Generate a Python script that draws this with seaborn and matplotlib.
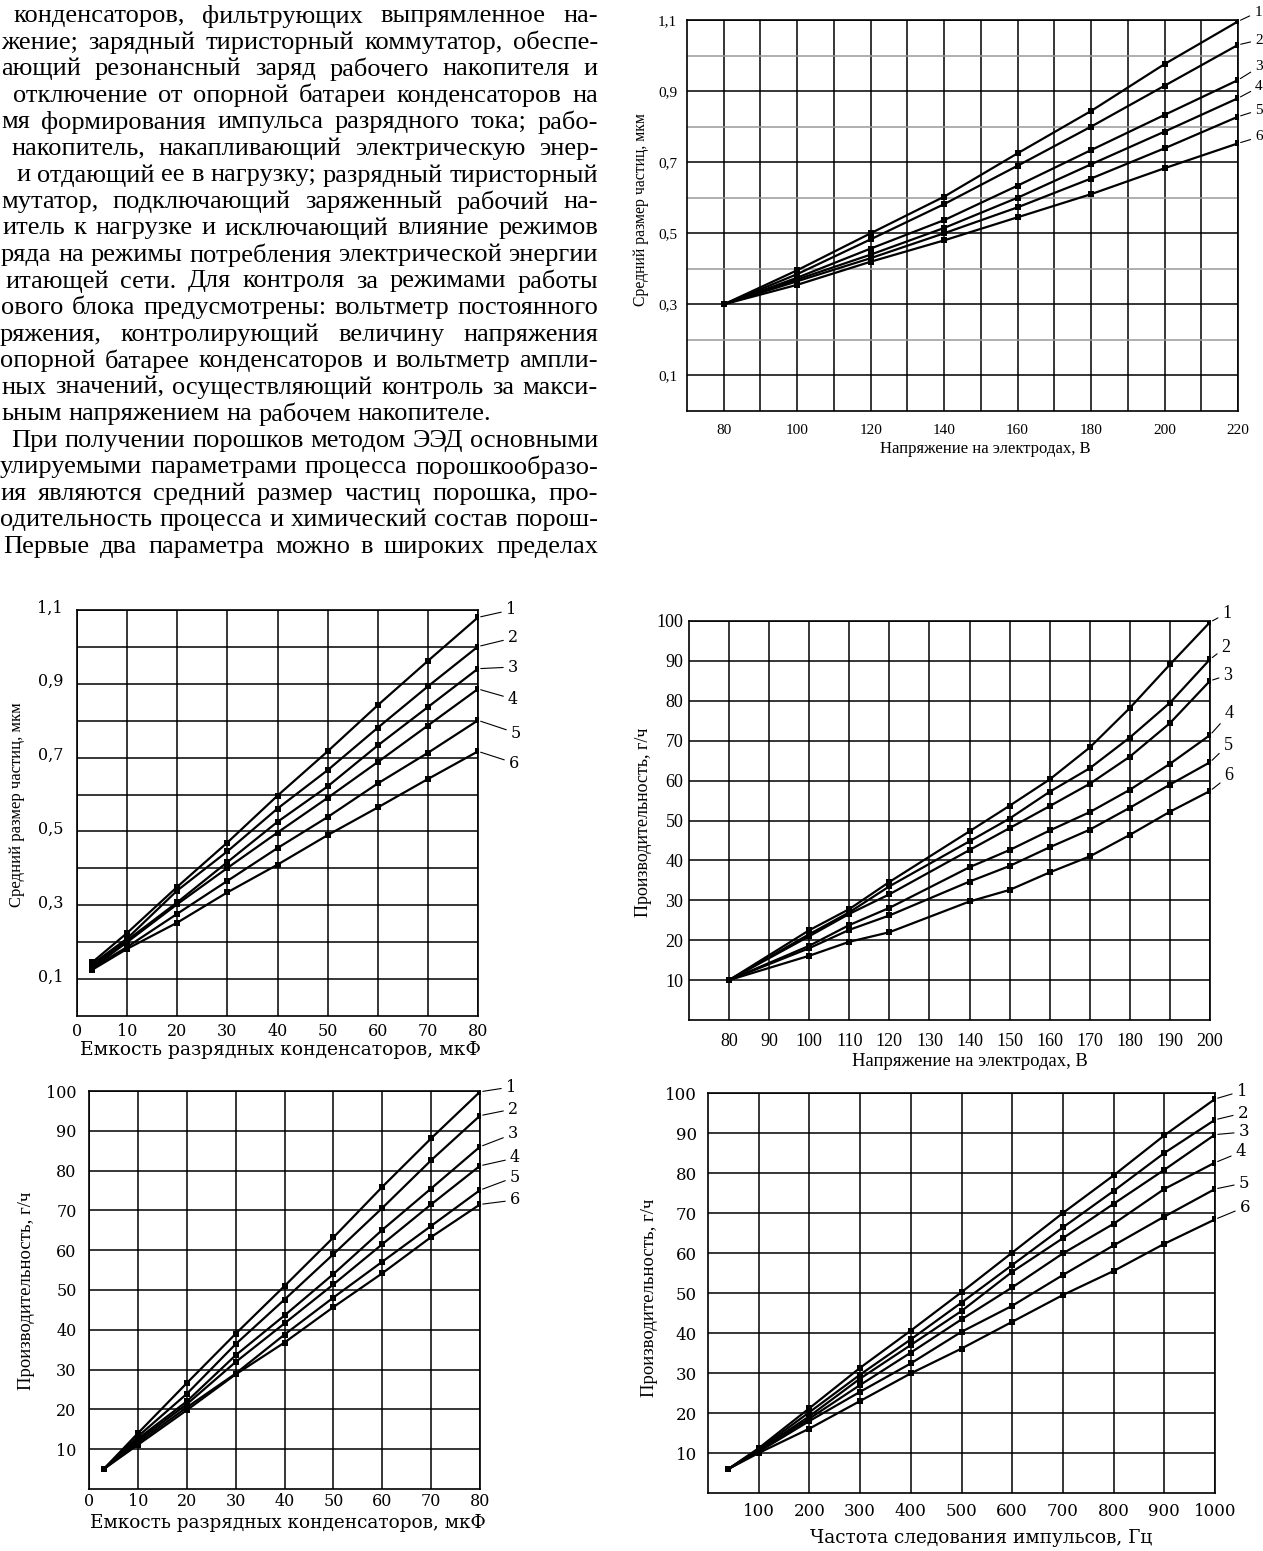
import matplotlib
matplotlib.use('Agg')
import matplotlib.pyplot as plt
import matplotlib.transforms as mtrans
import seaborn as sns
import numpy as np
import pandas as pd
from matplotlib.ticker import FuncFormatter

W, H = 1263, 1551

# ---- page text (top-left, cut on the left side) ----
text_lines = [
    "конденсаторов, фильтрующих выпрямленное на-",
    "жение; зарядный тиристорный коммутатор, обеспе-",
    "ающий резонансный заряд рабочего накопителя и",
    "отключение от опорной батареи конденсаторов на",
    "мя формирования импульса разрядного тока; рабо-",
    "накопитель, накапливающий электрическую энер-",
    "и отдающий ее в нагрузку; разрядный тиристорный",
    "мутатор, подключающий заряженный рабочий на-",
    "итель к нагрузке и исключающий влияние режимов",
    "ряда на режимы потребления электрической энергии",
    "итающей сети. Для контроля за режимами работы",
    "ового блока предусмотрены: вольтметр постоянного",
    "ряжения, контролирующий величину напряжения",
    "опорной батарее конденсаторов и вольтметр ампли-",
    "ных значений, осуществляющий контроль за макси-",
    "ьным напряжением на рабочем накопителе.",
    "При получении порошков методом ЭЭД основными",
    "улируемыми параметрами процесса порошкообразо-",
    "ия являются средний размер частиц порошка, про-",
    "одительность процесса и химический состав порош-",
    "Первые два параметра можно в широких пределах",
]
text_left = [13, 1, 1, 13, 1, 11, 16, 1, 2, 1, 5, 1, 0, 0, 1, 1, 11, 0, 0, 0, 3]
text_justified = [True] * 15 + [False] + [True] * 5

# ---- chart A: particle size vs electrode voltage ----
a_x = [80, 100, 120, 140, 160, 180, 200, 220]
a_1 = [0.30, 0.396, 0.50, 0.603, 0.725, 0.844, 0.976, 1.096]
a_2 = [0.30, 0.385, 0.483, 0.582, 0.690, 0.800, 0.915, 1.030]
a_3 = [0.30, 0.375, 0.457, 0.537, 0.634, 0.734, 0.833, 0.931]
a_4 = [0.30, 0.370, 0.440, 0.515, 0.600, 0.694, 0.786, 0.880]
a_5 = [0.30, 0.365, 0.430, 0.500, 0.573, 0.654, 0.739, 0.828]
a_6 = [0.30, 0.355, 0.420, 0.480, 0.545, 0.610, 0.683, 0.753]

# ---- chart B: particle size vs capacitance ----
b_x = [3, 10, 20, 30, 40, 50, 60, 70, 80]
b_1 = [0.145, 0.225, 0.350, 0.470, 0.597, 0.717, 0.842, 0.962, 1.080]
b_2 = [0.140, 0.210, 0.340, 0.446, 0.562, 0.666, 0.781, 0.893, 1.001]
b_3 = [0.135, 0.205, 0.308, 0.417, 0.526, 0.622, 0.733, 0.837, 0.941]
b_4 = [0.130, 0.200, 0.303, 0.401, 0.497, 0.591, 0.688, 0.787, 0.886]
b_5 = [0.130, 0.187, 0.277, 0.366, 0.455, 0.539, 0.630, 0.713, 0.801]
b_6 = [0.125, 0.182, 0.253, 0.335, 0.410, 0.490, 0.565, 0.642, 0.717]

# ---- chart C: productivity vs capacitance ----
c_x = [3, 10, 20, 30, 40, 50, 60, 70, 80]
c_1 = [5, 14.0, 26.6, 39.0, 51.0, 63.2, 75.9, 88.1, 99.8]
c_2 = [5, 13.2, 23.9, 36.4, 47.6, 59.0, 70.6, 82.6, 93.8]
c_3 = [5, 12.6, 22.0, 33.6, 43.6, 54.0, 65.1, 75.5, 86.0]
c_4 = [5, 12.1, 21.3, 31.9, 41.6, 51.4, 61.5, 71.5, 81.2]
c_5 = [5, 11.6, 20.5, 29.0, 38.8, 48.1, 57.1, 66.1, 75.1]
c_6 = [5, 11.1, 19.8, 28.8, 36.8, 45.7, 54.2, 63.3, 71.5]

# ---- chart D: productivity vs electrode voltage ----
d_x = [80, 100, 110, 120, 140, 150, 160, 170, 180, 190, 200]
d_1 = [10, 22.5, 27.8, 34.6, 47.3, 53.7, 60.3, 68.3, 78.2, 89.1, 99.7]
d_2 = [10, 21.5, 27.0, 33.5, 44.8, 50.5, 57.2, 63.1, 70.8, 79.5, 90.4]
d_3 = [10, 21.0, 26.6, 31.5, 42.6, 48.1, 53.6, 59.2, 66.0, 74.4, 85.0]
d_4 = [10, 18.6, 23.8, 28.1, 38.3, 42.6, 47.5, 52.1, 57.7, 64.2, 71.4]
d_5 = [10, 18.0, 22.6, 26.2, 34.7, 38.6, 43.3, 47.7, 53.2, 59.0, 64.6]
d_6 = [10, 16.1, 19.6, 22.0, 29.7, 32.6, 37.0, 41.0, 46.4, 52.2, 57.4]

# ---- chart E: productivity vs pulse frequency ----
e_x = [40, 100, 200, 300, 400, 500, 600, 700, 800, 900, 1000]
e_1 = [6, 11.2, 21.2, 31.3, 40.6, 50.2, 60.1, 70.0, 79.4, 89.4, 98.5]
e_2 = [6, 10.9, 20.2, 29.6, 38.4, 47.6, 57.0, 66.4, 75.5, 85.0, 93.3]
e_3 = [6, 10.7, 19.2, 28.6, 37.0, 45.5, 55.3, 63.7, 72.3, 80.8, 89.6]
e_4 = [6, 10.5, 18.6, 27.0, 35.1, 43.4, 51.4, 59.9, 67.3, 76.0, 82.6]
e_5 = [6, 10.3, 18.0, 25.3, 32.4, 40.3, 46.8, 54.5, 61.9, 69.1, 76.0]
e_6 = [6, 10.0, 16.1, 23.0, 29.9, 36.1, 42.8, 49.5, 55.5, 62.3, 68.4]

curve_names = ["1", "2", "3", "4", "5", "6"]

sns.set_theme(style='white')
plt.rcParams['font.family'] = ['Liberation Serif', 'DejaVu Serif']

fig = plt.figure(figsize=(W / 100, H / 100), dpi=100)
fig.patch.set_facecolor('white')
renderer = fig.canvas.get_renderer()

# justified page text
TXT_FS = 19
y = 16
for line, x0, just in zip(text_lines, text_left, text_justified):
    words = line.split(' ')
    objs = [fig.text(0, 0, w, fontsize=TXT_FS, family='Liberation Serif',
                     va='center', ha='left', color='black') for w in words]
    widths = [t.get_window_extent(renderer).width for t in objs]
    if just and len(words) > 1:
        gap = (598 - x0 - sum(widths)) / (len(words) - 1)
    else:
        gap = TXT_FS * 100 / 72 * 0.25
    x = x0
    for t, w in zip(objs, widths):
        t.set_position((x / W, 1 - y / H))
        x += w + gap
    y += 26.55


def panel(box, xs, ys, xlim, ylim, xmaj, xmin, ymaj, ymin, xlabel, ylabel,
          xl_pos, yl_pos, num_pos, tick_font, tick_fs, xl_font, xl_fs, yl_fs,
          xpad, ypad, comma=False, minor_color='black', ylab_shift=0):
    x0, y0, x1, y1 = box
    ax = fig.add_axes([x0 / W, 1 - y1 / H, (x1 - x0) / W, (y1 - y0) / H])
    df = pd.DataFrame({
        'x': np.tile(xs, len(ys)),
        'y': np.concatenate(ys),
        'curve': np.repeat(curve_names, len(xs)),
    })
    sns.lineplot(data=df, x='x', y='y', hue='curve', palette=['black'] * 6,
                 marker='s', markersize=4.2, markeredgewidth=0, linewidth=1.6,
                 legend=False, ax=ax, zorder=3)
    ax.set_xlim(*xlim)
    ax.set_ylim(*ylim)
    ax.set_xticks(xmaj)
    ax.set_xticks(xmin, minor=True)
    ax.set_yticks(ymaj)
    ax.set_yticks(ymin, minor=True)
    if comma:
        ax.yaxis.set_major_formatter(FuncFormatter(lambda v, _: f"{v:.1f}".replace('.', ',')))
    ax.grid(which='major', color='black', linewidth=1.1)
    ax.grid(which='minor', axis='x', color='black', linewidth=1.1)
    ax.grid(which='minor', axis='y', color=minor_color, linewidth=1.1)
    ax.set_axisbelow(True)
    ax.tick_params(which='both', length=0)
    ax.tick_params(axis='x', pad=xpad)
    ax.tick_params(axis='y', pad=ypad)
    for lab in ax.get_xticklabels() + ax.get_yticklabels():
        lab.set_family(tick_font)
        lab.set_fontsize(tick_fs)
        lab.set_color('black')
    if ylab_shift:
        shift = mtrans.ScaledTranslation(0, ylab_shift / 100, fig.dpi_scale_trans)
        for lab in ax.get_yticklabels():
            lab.set_transform(lab.get_transform() + shift)
    for s in ax.spines.values():
        s.set_visible(True)
        s.set_color('black')
        s.set_linewidth(1.2)
    ax.set_xlabel(xlabel, family=xl_font, fontsize=xl_fs, color='black')
    ax.set_ylabel(ylabel, family='Liberation Serif', fontsize=yl_fs, color='black')
    ax.xaxis.set_label_coords((xl_pos[0] - x0) / (x1 - x0), (y1 - xl_pos[1]) / (y1 - y0))
    ax.xaxis.label.set_va('center')
    ax.yaxis.set_label_coords((yl_pos[0] - x0) / (x1 - x0), (y1 - yl_pos[1]) / (y1 - y0))
    ax.yaxis.label.set_va('center')
    for name, yv, (lx, ly) in zip(curve_names, ys, num_pos):
        ax.annotate(name, xy=(xs[-1], yv[-1]), xytext=(lx, H - ly),
                    textcoords='figure pixels', ha='center', va='center',
                    family=tick_font, fontsize=tick_fs, color='black',
                    annotation_clip=False,
                    arrowprops=dict(arrowstyle='-', color='black', lw=0.8,
                                    shrinkA=1, shrinkB=2))
    return ax


# chart A
panel((687, 20, 1238, 411), a_x, [a_1, a_2, a_3, a_4, a_5, a_6],
      (70, 220), (0, 1.1), range(80, 221, 20), range(90, 220, 20),
      np.arange(0.1, 1.15, 0.2), np.arange(0.2, 1.05, 0.2),
      "Напряжение на электродах, В", "Средний размер частиц, мкм",
      (985, 449), (641, 210),
      [(1258, 12), (1259, 40), (1259, 67), (1259, 87), (1259, 110), (1259, 137)],
      'Liberation Serif', 11, 'Liberation Serif', 12, 11.3, 9.5, 7,
      comma=True, minor_color='#9a9a9a')

# chart B
panel((77, 610, 478, 1016), b_x, [b_1, b_2, b_3, b_4, b_5, b_6],
      (0, 80), (0, 1.1), range(0, 81, 10), [],
      np.arange(0.1, 1.15, 0.2), np.arange(0.2, 1.05, 0.2),
      "Емкость разрядных конденсаторов, мкФ", "Средний размер частиц, мкм",
      (280, 1050), (17, 805),
      [(511, 610), (513, 638), (513, 667), (513, 699), (516, 733), (514, 763)],
      'DejaVu Serif', 11.5, 'DejaVu Serif', 13.5, 12, 5, 10,
      comma=True, ylab_shift=4)

# chart C
panel((89, 1091, 480, 1489), c_x, [c_1, c_2, c_3, c_4, c_5, c_6],
      (0, 80), (0, 100), range(0, 81, 10), [],
      range(10, 101, 10), [],
      "Емкость разрядных конденсаторов, мкФ", "Производительность, г/ч",
      (288, 1523), (27, 1291),
      [(511, 1087), (513, 1109), (513, 1134), (515, 1158), (515, 1177), (515, 1200)],
      'DejaVu Serif', 11.5, 'DejaVu Serif', 13.3, 13.5, 3, 9)

# chart D
panel((689, 621, 1210, 1020), d_x, [d_1, d_2, d_3, d_4, d_5, d_6],
      (70, 200), (0, 100), range(80, 201, 10), [],
      range(10, 101, 10), [],
      "Напряжение на электродах, В", "Производительность, г/ч",
      (970, 1062), (644, 822),
      [(1227, 613), (1226, 647), (1228, 675), (1229, 714), (1228, 745), (1229, 776)],
      'Liberation Serif', 13, 'Liberation Serif', 13.4, 13, 9, 4)

# chart E
panel((708, 1093, 1215, 1493), e_x, [e_1, e_2, e_3, e_4, e_5, e_6],
      (0, 1000), (0, 100), range(100, 1001, 100), [],
      range(10, 101, 10), [],
      "Частота следования импульсов, Гц", "Производительность, г/ч",
      (981, 1538), (650, 1298),
      [(1242, 1091), (1243, 1113), (1244, 1132), (1241, 1152), (1244, 1183), (1245, 1207)],
      'DejaVu Serif', 12, 'DejaVu Serif', 13.3, 13.5, 7, 8)

fig.savefig('out.png', dpi=100, facecolor='white')
